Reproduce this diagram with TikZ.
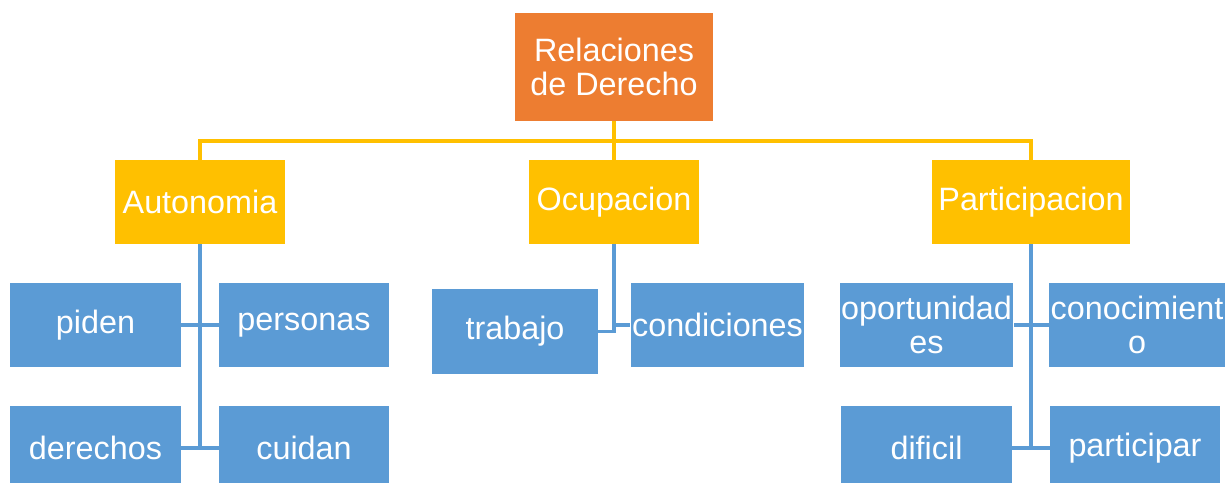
\documentclass[tikz,border=0pt]{standalone}
\usepackage{fontspec}
\setmainfont{Liberation Sans}
\usepackage{xcolor}
\usepackage{tikz}
\definecolor{orangebox}{HTML}{ED7D31}
\definecolor{goldbox}{HTML}{FFC000}
\definecolor{bluebox}{HTML}{5B9BD5}
\tikzset{
  rootbox/.style={fill=orangebox, text=white, minimum width=4.95cm, minimum height=2.7cm, inner sep=1pt, align=center, font=\fontsize{23}{24.5}\selectfont},
  catbox/.style={fill=goldbox, text=white, minimum width=4.25cm, minimum height=2.1cm, inner sep=1pt, font=\fontsize{23}{24.5}\selectfont},
  leaf/.style={fill=bluebox, text=white, minimum width=4.25cm, minimum height=2.1cm, inner sep=1pt, align=center, font=\fontsize{23}{24.5}\selectfont},
  busline/.style={draw=goldbox, line width=2.2pt},
  twigline/.style={draw=bluebox, line width=2.2pt},
}
\begin{document}
\begin{tikzpicture}[x=0.025cm,y=0.025cm]
  \useasboundingbox (0,0) rectangle (1227,482);
  \node[rootbox] (rel) at (614,415) {Relaciones\\de Derecho};
  \node[catbox] (auto) at (200,280) {Autonomia};
  \node[catbox] (ocup) at (614,280) {Ocupacion};
  \node[catbox,minimum width=4.95cm] (part) at (1031,280) {Participacion};
  \coordinate (bus) at (614,341);
  \draw[busline] (auto.north) |- (bus) -| (part.north);
  \draw[busline] (rel.south) -- (ocup.north);
  % Autonomia
  \node[leaf] (piden) at (95.5,157) {piden};
  \node[leaf] (pers) at (304,157) {personas};
  \node[leaf] (der) at (95.5,34) {derechos};
  \node[leaf] (cuid) at (304,34) {cuidan};
  \draw[twigline] (auto.south) |- (piden.east);
  \draw[twigline] (auto.south) |- (pers.west);
  \draw[twigline] (auto.south) |- (der.east);
  \draw[twigline] (auto.south) |- (cuid.west);
  % Ocupacion
  \node[leaf,minimum width=4.15cm] (trab) at (515,150.5) {trabajo};
  \node[leaf] (cond) at (717.5,157) {condiciones};
  \draw[twigline] (ocup.south) |- (trab.east);
  \draw[twigline] (ocup.south) |- (cond.west);
  % Participacion
  \node[leaf] (oport) at (926.5,157) {oportunidad\\es};
  \node[leaf,minimum width=4.35cm] (conoc) at (1137,157) {conocimient\\o};
  \node[leaf] (dif) at (926.5,34) {dificil};
  \node[leaf] (partic) at (1135,34) {participar};
  \draw[twigline] (part.south) |- (oport.east);
  \draw[twigline] (part.south) |- (conoc.west);
  \draw[twigline] (part.south) |- (dif.east);
  \draw[twigline] (part.south) |- (partic.west);
\end{tikzpicture}
\end{document}
